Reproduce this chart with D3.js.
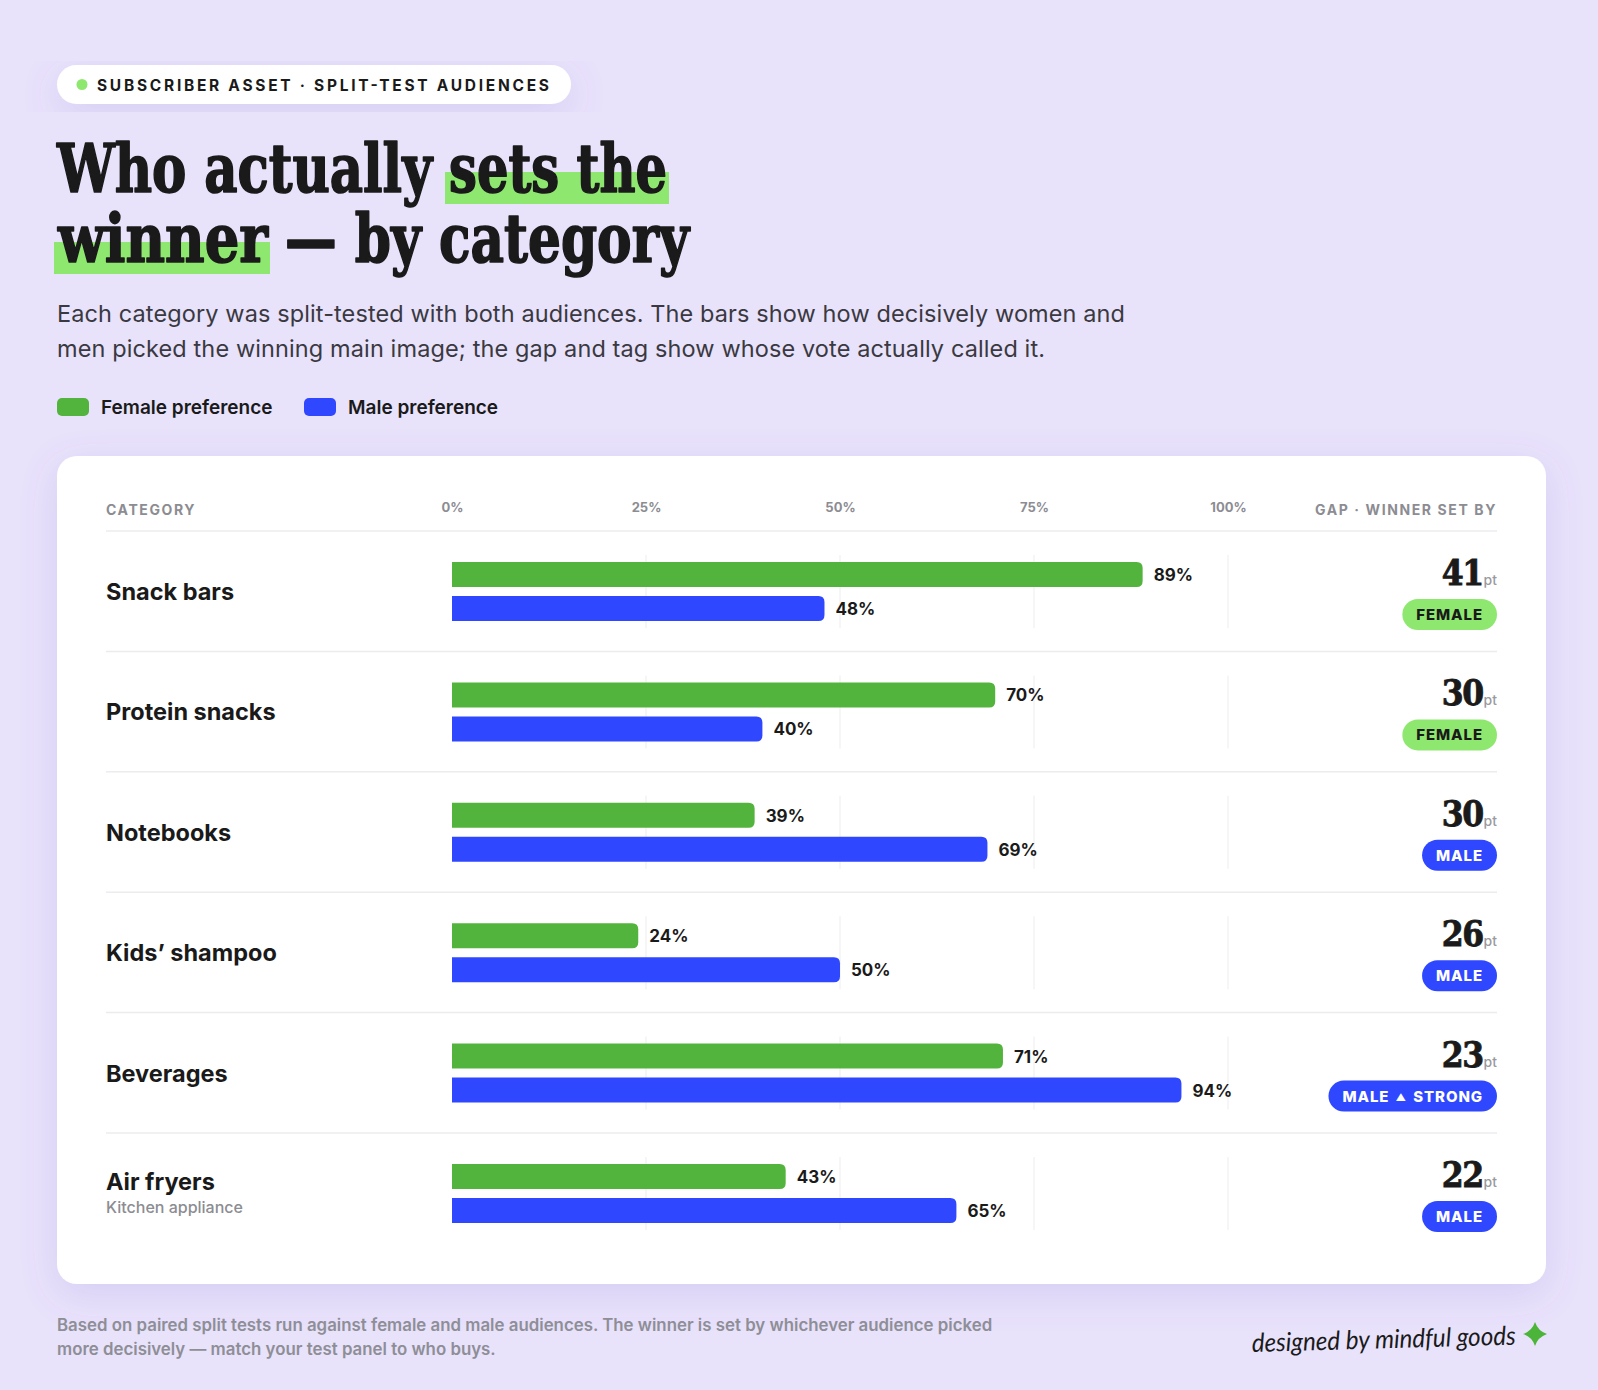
<!DOCTYPE html>
<html>
<head>
<meta charset="utf-8">
<script src="https://cdn.jsdelivr.net/npm/d3@7"></script>
<style>
  html, body { margin: 0; padding: 0; background: #e8e2fb; }
  svg { display: block; }
</style>
</head>
<body>
<div id="chart"></div>
<script>
// chart values
var categories = ["Snack bars", "Protein snacks", "Notebooks", "Kids\u2019 shampoo", "Beverages", "Air fryers"];
var subLabels = ["", "", "", "", "", "Kitchen appliance"];
var femaleVals = [89, 70, 39, 24, 71, 43];
var maleVals = [48, 40, 69, 50, 94, 65];
var gapVals = [41, 30, 30, 26, 23, 22];
var winnerTags = ["FEMALE", "FEMALE", "MALE", "MALE", "MALE \u25B2 STRONG", "MALE"];
var tickVals = [0, 25, 50, 75, 100];
var legendItems = ["Female preference", "Male preference"];

var svgWidth = 1598;
var svgHeight = 1390;

var colors = {
  bg: "#e8e2fb",
  female: "#52b43c",
  male: "#2f48ff",
  lime: "#8ee86f",
  ink: "#1a1a1a",
  muted: "#8c8c92",
  grid: "#f0f0f2",
  rule: "#ececef"
};

var sans = "Inter, 'Noto Sans', sans-serif";
var serif = "'DejaVu Serif Condensed', 'DejaVu Serif', 'Liberation Serif', serif";

var svg = d3.select("#chart")
  .append("svg")
  .attr("width", svgWidth)
  .attr("height", svgHeight)
  .attr("font-family", sans);

svg.append("rect")
  .attr("width", svgWidth)
  .attr("height", svgHeight)
  .attr("fill", colors.bg);

var defs = svg.append("defs");
var shadow = defs.append("filter")
  .attr("id", "soft")
  .attr("x", "-10%").attr("y", "-10%")
  .attr("width", "120%").attr("height", "130%");
shadow.append("feDropShadow")
  .attr("dx", 0).attr("dy", 10)
  .attr("stdDeviation", 18)
  .attr("flood-color", "#7a64c8")
  .attr("flood-opacity", 0.16);

// ---- eyebrow pill
svg.append("rect")
  .attr("x", 57).attr("y", 65)
  .attr("width", 514).attr("height", 39)
  .attr("rx", 19.5)
  .attr("fill", "#fff")
  .attr("filter", "url(#soft)");
svg.append("circle")
  .attr("cx", 82).attr("cy", 84.5).attr("r", 5.5)
  .attr("fill", colors.lime);
svg.append("text")
  .attr("x", 97).attr("y", 90.5)
  .attr("font-size", 15.5)
  .attr("font-weight", 700)
  .attr("fill", colors.ink)
  .attr("textLength", 452)
  .attr("lengthAdjust", "spacing")
  .text("SUBSCRIBER ASSET \u00B7 SPLIT-TEST AUDIENCES");

// ---- title (serif, with lime highlight behind some words)
var titleParts = [
  { text: "Who actually", line: 0, x0: 57, x1: 432, mark: false },
  { text: "sets the", line: 0, x0: 449, x1: 667, mark: true },
  { text: "winner", line: 1, x0: 58, x1: 268, mark: true },
  { text: "\u2014 by category", line: 1, x0: 285, x1: 689, mark: false }
];
var titleBaselines = [192, 262];

var markG = svg.append("g");
var titleG = svg.append("g");

titleParts.forEach(function(p) {
  titleG.append("text")
    .attr("x", p.x0)
    .attr("y", titleBaselines[p.line])
    .attr("font-family", serif)
    .attr("font-weight", 700)
    .attr("font-size", 67)
    .attr("fill", colors.ink)
    .attr("stroke", colors.ink)
    .attr("stroke-width", 1.6)
    .attr("stroke-linejoin", "round")
    .attr("textLength", p.x1 - p.x0)
    .attr("lengthAdjust", "spacingAndGlyphs")
    .text(p.text);
  if (p.mark) {
    markG.append("rect")
      .attr("x", p.x0 - 4)
      .attr("y", titleBaselines[p.line] - 20)
      .attr("width", p.x1 - p.x0 + 6)
      .attr("height", 32)
      .attr("fill", colors.lime);
  }
});

// ---- subtitle
var subLines = [
  { text: "Each category was split-tested with both audiences. The bars show how decisively women and", w: 1068 },
  { text: "men picked the winning main image; the gap and tag show whose vote actually called it.", w: 988 }
];
svg.append("g").selectAll("text")
  .data(subLines)
  .enter()
  .append("text")
  .attr("x", 57)
  .attr("y", (d, i) => 322 + i * 35)
  .attr("font-size", 23.5)
  .attr("fill", "#3a3941")
  .attr("textLength", d => d.w)
  .attr("lengthAdjust", "spacing")
  .text(d => d.text);

// ---- legend
var legendX = [57, 304];
var legend = svg.append("g").selectAll("g")
  .data(legendItems)
  .enter()
  .append("g")
  .attr("transform", (d, i) => `translate(${legendX[i]}, 398)`);
legend.append("rect")
  .attr("width", 32).attr("height", 18).attr("rx", 5)
  .attr("fill", (d, i) => i === 0 ? colors.female : colors.male);
legend.append("text")
  .attr("x", 44).attr("y", 15.5)
  .attr("font-size", 19)
  .attr("font-weight", 600)
  .attr("fill", colors.ink)
  .text(d => d);

// ---- card
svg.append("rect")
  .attr("x", 57).attr("y", 456)
  .attr("width", 1489).attr("height", 828)
  .attr("rx", 20)
  .attr("fill", "#fff")
  .attr("filter", "url(#soft)");

var contentLeft = 106;
var contentRight = 1497;
var headerLine = 531;
var rowH = 120.4;

var x = d3.scaleLinear()
  .domain([0, 100])
  .range([452, 1228]);

var y = d3.scaleBand()
  .domain(categories)
  .range([headerLine, headerLine + rowH * categories.length]);

// header labels
svg.append("text")
  .attr("x", contentLeft).attr("y", 515)
  .attr("font-size", 14).attr("font-weight", 700)
  .attr("letter-spacing", 1.6)
  .attr("fill", colors.muted)
  .text("CATEGORY");
svg.append("text")
  .attr("x", contentRight).attr("y", 515)
  .attr("text-anchor", "end")
  .attr("font-size", 14).attr("font-weight", 700)
  .attr("letter-spacing", 1.6)
  .attr("fill", colors.muted)
  .text("GAP \u00B7 WINNER SET BY");

var xAxis = svg.append("g")
  .attr("transform", "translate(0, 512)")
  .call(d3.axisTop(x)
    .tickValues(tickVals)
    .tickFormat(d => d + "%")
    .tickSize(0)
    .tickPadding(0));
xAxis.select(".domain").remove();
xAxis.selectAll("text")
  .attr("dy", 0)
  .attr("font-family", sans)
  .attr("font-size", 13)
  .attr("font-weight", 700)
  .attr("fill", colors.muted);

svg.append("line")
  .attr("x1", contentLeft).attr("x2", contentRight)
  .attr("y1", headerLine).attr("y2", headerLine)
  .attr("stroke", colors.rule).attr("stroke-width", 1.5);

// bar with rounded right end only
function barPath(x0, x1, top, h, r) {
  return `M${x0},${top}H${x1 - r}Q${x1},${top} ${x1},${top + r}` +
    `V${top + h - r}Q${x1},${top + h} ${x1 - r},${top + h}H${x0}Z`;
}

var rows = svg.append("g").selectAll("g")
  .data(categories)
  .enter()
  .append("g")
  .attr("transform", d => `translate(0, ${y(d)})`);

// row separators (not after the last row)
rows.filter((d, i) => i < categories.length - 1)
  .append("line")
  .attr("x1", contentLeft).attr("x2", contentRight)
  .attr("y1", y.bandwidth()).attr("y2", y.bandwidth())
  .attr("stroke", colors.rule).attr("stroke-width", 1.5);

// gridlines
rows.selectAll(".grid")
  .data(tickVals.slice(1))
  .enter()
  .append("line")
  .attr("class", "grid")
  .attr("x1", d => x(d)).attr("x2", d => x(d))
  .attr("y1", 24).attr("y2", 97)
  .attr("stroke", colors.grid).attr("stroke-width", 1.2);

// bars
rows.append("path")
  .attr("d", (d, i) => barPath(x(0), x(femaleVals[i]), 31, 25, 6))
  .attr("fill", colors.female);
rows.append("path")
  .attr("d", (d, i) => barPath(x(0), x(maleVals[i]), 65, 25, 6))
  .attr("fill", colors.male);

// value labels
rows.append("text")
  .attr("x", (d, i) => x(femaleVals[i]) + 11)
  .attr("y", 50)
  .attr("font-size", 17).attr("font-weight", 700)
  .attr("fill", colors.ink)
  .text((d, i) => femaleVals[i] + "%");
rows.append("text")
  .attr("x", (d, i) => x(maleVals[i]) + 11)
  .attr("y", 84)
  .attr("font-size", 17).attr("font-weight", 700)
  .attr("fill", colors.ink)
  .text((d, i) => maleVals[i] + "%");

// category labels
rows.append("text")
  .attr("x", contentLeft)
  .attr("y", (d, i) => subLabels[i] ? 57 : 69)
  .attr("font-size", 23.5).attr("font-weight", 700)
  .attr("fill", colors.ink)
  .text(d => d);
rows.filter((d, i) => subLabels[i])
  .append("text")
  .attr("x", contentLeft).attr("y", 80)
  .attr("font-size", 16).attr("font-weight", 500)
  .attr("fill", colors.muted)
  .text(d => subLabels[categories.indexOf(d)]);

// gap numbers
var gapText = rows.append("text")
  .attr("x", contentRight).attr("y", 54)
  .attr("text-anchor", "end");
gapText.append("tspan")
  .attr("font-family", serif)
  .attr("font-size", 35).attr("font-weight", 700)
  .attr("letter-spacing", -1.5)
  .attr("fill", colors.ink)
  .attr("stroke", colors.ink)
  .attr("stroke-width", 0.8)
  .text((d, i) => gapVals[i]);
gapText.append("tspan")
  .attr("dx", 1)
  .attr("font-size", 14).attr("font-weight", 500)
  .attr("fill", "#9a9aa0")
  .text("pt");

// winner badges
rows.each(function(d, i) {
  var g = d3.select(this);
  var female = winnerTags[i].indexOf("FEMALE") === 0;
  var badge = g.append("g");
  var rect = badge.append("rect")
    .attr("y", 68).attr("height", 31).attr("rx", 15.5)
    .attr("fill", female ? colors.lime : colors.male);
  var label = badge.append("text")
    .attr("x", contentRight - 14).attr("y", 89)
    .attr("text-anchor", "end")
    .attr("font-size", 15).attr("font-weight", 800)
    .attr("letter-spacing", 0.9)
    .attr("fill", female ? colors.ink : "#fff");
  var parts = winnerTags[i].split("\u25B2");
  if (parts.length > 1) {
    label.append("tspan").text(parts[0]);
    label.append("tspan").attr("font-size", 10).attr("dx", 2).attr("dy", -1).text("\u25B2");
    label.append("tspan").attr("dx", 2).attr("dy", 1).text(parts[1]);
  } else {
    label.text(winnerTags[i]);
  }
  var bb = label.node().getBBox();
  rect.attr("x", bb.x - 14).attr("width", bb.width + 28);
});

// ---- footer
var footLines = [
  "Based on paired split tests run against female and male audiences. The winner is set by whichever audience picked",
  "more decisively \u2014 match your test panel to who buys."
];
svg.append("g").selectAll("text")
  .data(footLines)
  .enter()
  .append("text")
  .attr("x", 57)
  .attr("y", (d, i) => 1331 + i * 23.5)
  .attr("font-size", 16.85).attr("font-weight", 600)
  .attr("fill", "#8e8e96")
  .text(d => d);

// signature
svg.append("text")
  .attr("x", 1252).attr("y", 1352)
  .attr("transform", "rotate(-1.6, 1252, 1352)")
  .attr("font-family", "Lato, 'DejaVu Sans', sans-serif")
  .attr("font-style", "italic")
  .attr("font-size", 26)
  .attr("fill", colors.ink)
  .attr("textLength", 264)
  .attr("lengthAdjust", "spacingAndGlyphs")
  .text("designed by mindful goods");

// sparkle
var sx = 1535, sy = 1334, sr = 12, si = 3;
svg.append("path")
  .attr("d", `M${sx},${sy - sr}Q${sx + si},${sy - si} ${sx + sr},${sy}` +
    `Q${sx + si},${sy + si} ${sx},${sy + sr}` +
    `Q${sx - si},${sy + si} ${sx - sr},${sy}` +
    `Q${sx - si},${sy - si} ${sx},${sy - sr}Z`)
  .attr("fill", "#4db43a");
</script>
</body>
</html>
